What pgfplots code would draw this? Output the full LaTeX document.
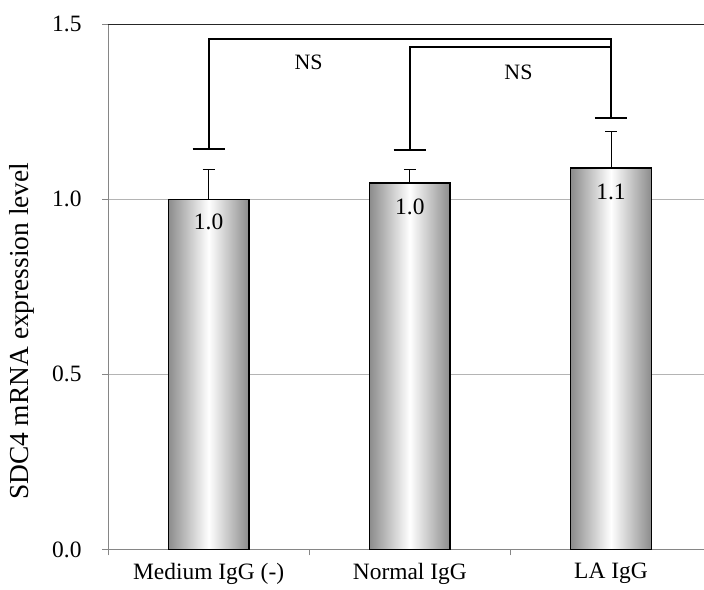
\documentclass[border=0pt]{standalone}
\usepackage{fontspec}
\setmainfont{Liberation Serif}
\usepackage{pgfplots}
\pgfplotsset{compat=1.18}
\definecolor{axgray}{RGB}{134,134,134}
\definecolor{gridgray}{RGB}{180,180,180}
\definecolor{bardark}{RGB}{140,140,140}
\begin{document}
\begin{tikzpicture}
\begin{axis}[
  scale only axis,
  width=595bp, height=525bp,
  xmin=-0.5, xmax=2.46,
  ymin=0, ymax=1.5,
  clip=false,
  axis lines*=left,
  axis line style={axgray, line width=0.8bp},
  ytick={0,0.5,1,1.5},
  tick label style={font=\fontsize{23.5}{28}\selectfont, text=black},
  yticklabel style={xshift=-17bp, /pgf/number format/.cd, fixed, fixed zerofill, precision=1, assume math mode=true},
  tick align=outside,
  major tick length=6bp,
  tick style={axgray, line width=0.8bp},
  ymajorgrids,
  grid style={gridgray, line width=0.8bp},
  xtick={-0.5,0.5,1.5},
  xticklabels={},
  extra x ticks={0,1,2},
  extra x tick labels={Medium IgG (-), Normal IgG, LA IgG},
  extra x tick style={major tick length=0pt, grid=none, xticklabel style={yshift=-10bp}},
  ylabel={SDC4 mRNA expression level},
  ylabel style={font=\fontsize{27.5}{32}\selectfont, at={(axis cs:-0.928,0.623)}, anchor=center},
]
\path (axis cs:-1.037,-0.1143) rectangle (axis cs:2.46,1.5686);
\draw[black!85, line width=0.9bp] (rel axis cs:0,1) -- (rel axis cs:1,1);
\pgfplotsset{mybar/.style={ybar, bar width=0.4, draw=black, line width=1.3bp,
  left color=bardark, right color=bardark, middle color=white,
  error bars/.cd, y dir=plus, y explicit,
  error bar style={black, line width=0.8bp},
  error mark options={rotate=90, mark size=6bp, black, line width=0.8bp}}}
\addplot[mybar] coordinates {(0,1.0) +- (0,0.086)};
\addplot[mybar] coordinates {(1,1.046) +- (0,0.04)};
\addplot[mybar] coordinates {(2,1.089) +- (0,0.105)};
\draw[line width=1.8bp] (axis cs:-0.08,1.143) -- (axis cs:0.08,1.143);
\draw[line width=1.8bp] (axis cs:0,1.143) -- (axis cs:0,1.457) -- (axis cs:2,1.457) -- (axis cs:2,1.231);
\draw[line width=1.8bp] (axis cs:1.92,1.231) -- (axis cs:2.08,1.231);
\draw[line width=1.8bp] (axis cs:0.92,1.14) -- (axis cs:1.08,1.14);
\draw[line width=1.8bp] (axis cs:1,1.14) -- (axis cs:1,1.434) -- (axis cs:2,1.434);
\node[font=\fontsize{22}{26}\selectfont] at (axis cs:0.497,1.391) {NS};
\node[font=\fontsize{22}{26}\selectfont] at (axis cs:1.54,1.363) {NS};
\node[font=\fontsize{23.5}{28}\selectfont] at (axis cs:0,0.935) {1.0};
\node[font=\fontsize{23.5}{28}\selectfont] at (axis cs:1,0.977) {1.0};
\node[font=\fontsize{23.5}{28}\selectfont] at (axis cs:2,1.02) {1.1};
\end{axis}
\end{tikzpicture}
\end{document}
